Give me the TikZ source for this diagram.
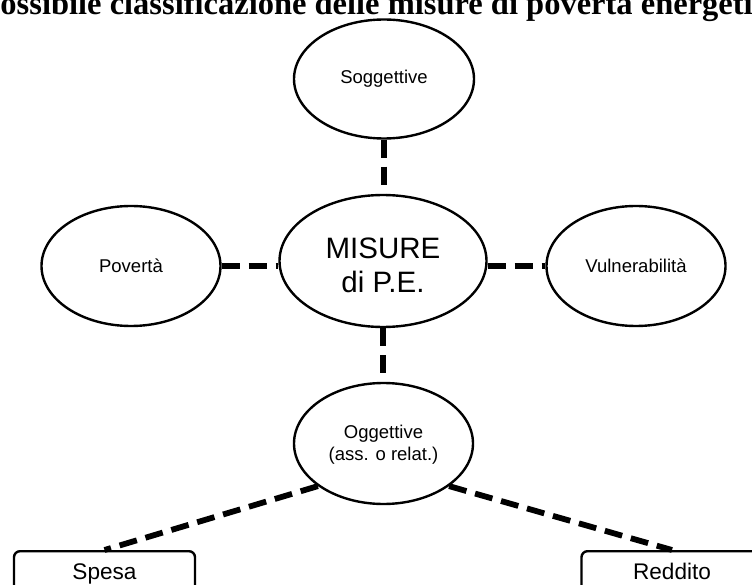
\documentclass[tikz,border=0pt]{standalone}
\usepackage{fontspec}
\setmainfont{Liberation Serif}
\setsansfont{Liberation Sans}
\usetikzlibrary{shapes.geometric}
\begin{document}
\begin{tikzpicture}[x=1pt,y=-1pt,
  ell/.style={ellipse, draw, line width=2.4pt, inner sep=0pt, align=center,
    font=\sffamily\fontsize{18.5}{21.3}\selectfont},
  conn/.style={line width=5.8pt, dash pattern=on 18pt off 9pt},
  boxnode/.style={draw, line width=2.4pt, rounded corners=6pt, minimum width=181pt,
    inner xsep=0pt, inner ysep=0pt, text height=28pt, text depth=28pt, anchor=north,
    font=\sffamily\fontsize{22.6}{26}\selectfont}]
\fill[white] (0,0) rectangle (752,585);
\useasboundingbox (0,0) rectangle (752,585);
\node[anchor=base, inner sep=0pt, font=\rmfamily\bfseries\fontsize{32.5}{39}\selectfont] (title) at (382,15) {Possibile classificazione delle misure di povertà energetica};
\node[ell, minimum width=180pt, minimum height=119pt] (sog) at (384,79) {Soggettive};
\node[ell, minimum width=207pt, minimum height=132pt, font=\sffamily\fontsize{29.5}{34}\selectfont] (mis) at (383,261) {\rule{0pt}{29pt}MISURE\\di P.E.};
\node[ell, minimum width=179pt, minimum height=120pt] (pov) at (131,266) {Povertà};
\node[ell, minimum width=179pt, minimum height=120pt] (vul) at (636,266) {Vulnerabilità};
\node[ell, minimum width=179pt, minimum height=121pt] (ogg) at (383.5,443.5) {\rule{0pt}{16pt}Oggettive\\(ass. o relat.)};
\node[boxnode] (spe) at (104.5,550) {Spesa};
\node[boxnode] (red) at (672,550) {Reddito};
\draw[conn] (sog.south) -- (sog.south |- mis.north);
\draw[conn] (mis.south) -- (mis.south |- ogg.north);
\draw[conn] (pov.east) -- (pov.east -| mis.west);
\draw[conn] (mis.east |- vul.west) -- (vul.west);
\draw[conn] (ogg.213.6) -- (spe.north);
\draw[conn] (ogg.327) -- (red.north);
\end{tikzpicture}
\end{document}
